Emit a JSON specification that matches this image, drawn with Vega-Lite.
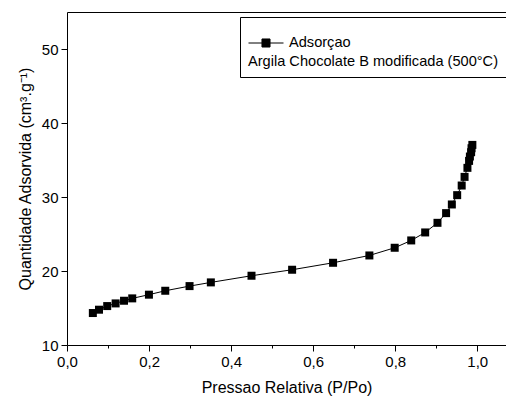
{
  "$schema": "https://vega.github.io/schema/vega-lite/v6.json",
  "width": 439,
  "height": 333,
  "autosize": {"type": "none"},
  "padding": {"left": 67, "top": 12, "right": 0, "bottom": 51},
  "background": "white",
  "config": {
    "view": {"stroke": null},
    "font": "Liberation Sans",
    "axis": {
      "domainColor": "black",
      "tickColor": "black",
      "labelColor": "black",
      "titleColor": "black",
      "labelFont": "Liberation Sans",
      "titleFont": "Liberation Sans",
      "titleFontWeight": "normal",
      "grid": false,
      "domainWidth": 1,
      "tickWidth": 1
    },
    "legend": {
      "labelFont": "Liberation Sans",
      "titleFont": "Liberation Sans"
    }
  },
  "data": {
    "values": [
      {"p": 0.063, "q": 14.32, "series": "Adsorçao"},
      {"p": 0.078, "q": 14.77, "series": "Adsorçao"},
      {"p": 0.098, "q": 15.26, "series": "Adsorçao"},
      {"p": 0.1185, "q": 15.62, "series": "Adsorçao"},
      {"p": 0.139, "q": 15.98, "series": "Adsorçao"},
      {"p": 0.159, "q": 16.3, "series": "Adsorçao"},
      {"p": 0.1997, "q": 16.8, "series": "Adsorçao"},
      {"p": 0.2395, "q": 17.33, "series": "Adsorçao"},
      {"p": 0.2987, "q": 17.96, "series": "Adsorçao"},
      {"p": 0.3506, "q": 18.46, "series": "Adsorçao"},
      {"p": 0.4497, "q": 19.36, "series": "Adsorçao"},
      {"p": 0.5487, "q": 20.17, "series": "Adsorçao"},
      {"p": 0.6485, "q": 21.11, "series": "Adsorçao"},
      {"p": 0.737, "q": 22.1, "series": "Adsorçao"},
      {"p": 0.7987, "q": 23.14, "series": "Adsorçao"},
      {"p": 0.839, "q": 24.13, "series": "Adsorçao"},
      {"p": 0.873, "q": 25.21, "series": "Adsorçao"},
      {"p": 0.903, "q": 26.51, "series": "Adsorçao"},
      {"p": 0.924, "q": 27.82, "series": "Adsorçao"},
      {"p": 0.938, "q": 28.99, "series": "Adsorçao"},
      {"p": 0.951, "q": 30.25, "series": "Adsorçao"},
      {"p": 0.962, "q": 31.55, "series": "Adsorçao"},
      {"p": 0.969, "q": 32.72, "series": "Adsorçao"},
      {"p": 0.976, "q": 33.94, "series": "Adsorçao"},
      {"p": 0.98, "q": 34.88, "series": "Adsorçao"},
      {"p": 0.982, "q": 35.47, "series": "Adsorçao"},
      {"p": 0.985, "q": 36.05, "series": "Adsorçao"},
      {"p": 0.986, "q": 36.59, "series": "Adsorçao"},
      {"p": 0.988, "q": 37.04, "series": "Adsorçao"}
    ]
  },
  "layer": [
    {
      "mark": {"type": "line", "color": "black", "strokeWidth": 1},
      "encoding": {
        "x": {
          "field": "p", "type": "quantitative",
          "scale": {"domain": [0, 1.07], "nice": false, "zero": false},
          "axis": {
            "orient": "bottom",
            "title": "Pressao Relativa (P/Po)",
            "titleFontSize": 16,
            "titlePadding": 10,
            "values": [0, 0.1, 0.2, 0.3, 0.4, 0.5, 0.6, 0.7, 0.8, 0.9, 1.0],
            "labelExpr": "round(datum.value*10)%2==0 ? replace(format(datum.value,'.1f'),'.',',') : ''",
            "labelFontSize": 15,
            "labelPadding": 3,
            "tickSize": {"condition": {"test": "round(datum.value*10)%2==0", "value": 6}, "value": 3},
            "labelFlush": false
          }
        },
        "y": {
          "field": "q", "type": "quantitative",
          "scale": {"domain": [10, 55], "nice": false, "zero": false},
          "axis": {
            "title": "Quantidade Adsorvida (cm³.g⁻¹)",
            "titleFontSize": 16,
            "titlePadding": 8,
            "values": [10, 15, 20, 25, 30, 35, 40, 45, 50, 55],
            "labelExpr": "datum.value%10==0 ? format(datum.value,'d') : ''",
            "labelFontSize": 15,
            "labelPadding": 3,
            "tickSize": {"condition": {"test": "datum.value%10==0", "value": 6}, "value": 3},
            "labelFlush": false
          }
        }
      }
    },
    {
      "mark": {"type": "point", "shape": "square", "filled": true, "size": 64, "opacity": 1},
      "encoding": {
        "x": {
          "field": "p", "type": "quantitative",
          "axis": {"orient": "top", "title": null, "labels": false, "ticks": false, "domain": true}
        },
        "y": {"field": "q", "type": "quantitative"},
        "color": {
          "field": "series", "type": "nominal",
          "scale": {"range": ["black"]},
          "legend": {
            "orient": "none",
            "legendX": 173,
            "legendY": 5,
            "title": "Argila Chocolate B modificada (500°C)",
            "titleOrient": "bottom",
            "titleFontSize": 14.6,
            "titleFontWeight": "normal",
            "titleColor": "black",
            "titlePadding": 4,
            "titleLimit": 400,
            "labelFontSize": 14.6,
            "labelColor": "black",
            "labelOffset": 5,
            "labelLimit": 300,
            "symbolType": "M-1,0H-0.23M0.23,0H1M-0.23,-0.23H0.23V0.23H-0.23Z",
            "symbolSize": 1225,
            "symbolStrokeWidth": 1,
            "symbolStrokeColor": "black",
            "symbolFillColor": "black",
            "strokeColor": "black",
            "fillColor": "white",
            "padding": 8
          }
        }
      }
    }
  ],
  "resolve": {"axis": {"x": "independent"}}
}
